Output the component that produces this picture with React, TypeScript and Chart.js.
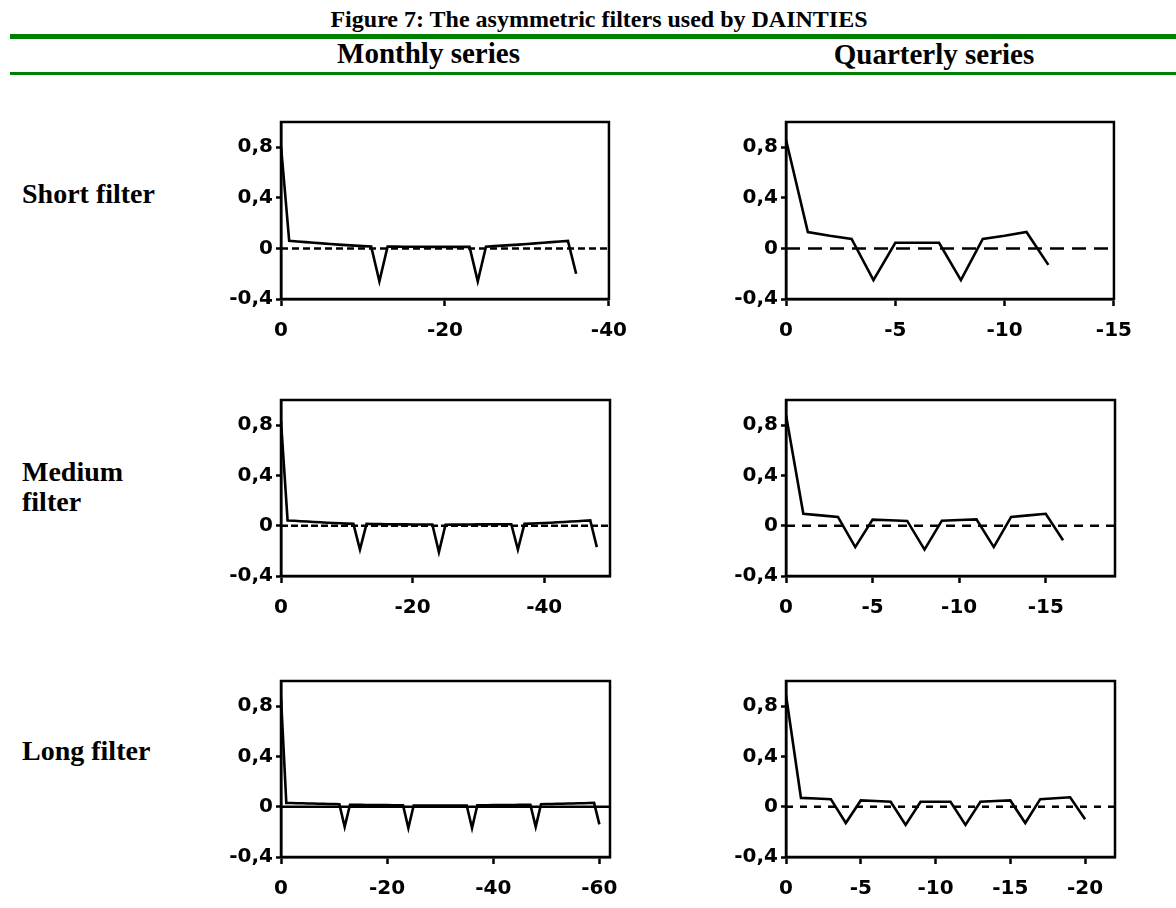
import React, { useEffect, useRef } from 'react';
import { Chart, registerables } from 'chart.js';

Chart.register(...registerables);

// ---- Data ----
const TITLE = 'Figure 7: The asymmetric filters used by DAINTIES';
const COLUMN_TITLES = ['Monthly series', 'Quarterly series'];
const ROW_LABELS = [['Short filter'], ['Medium', 'filter'], ['Long filter']];

const Y_TICKS = [-0.4, 0, 0.4, 0.8];
const Y_TICK_LABELS = ['-0,4', '0', '0,4', '0,8'];

// Filter weights by lag (lag 0, -1, -2, ...)
const monthlyShort = [
  0.81, 0.06, 0.055, 0.05, 0.045, 0.04, 0.035, 0.03, 0.026, 0.022, 0.018, 0.015,
  -0.26, 0.014, 0.014, 0.013, 0.013, 0.013, 0.012, 0.012, 0.012, 0.012, 0.012, 0.012,
  -0.26, 0.014, 0.018, 0.022, 0.026, 0.03, 0.035, 0.04, 0.045, 0.05, 0.055, 0.06,
  -0.2,
];
const quarterlyShort = [0.86, 0.13, 0.1, 0.075, -0.25, 0.045, 0.045, 0.045, -0.25, 0.075, 0.1, 0.13, -0.13];

const monthlyMedium = [
  0.83, 0.042, 0.039, 0.036, 0.033, 0.03, 0.027, 0.024, 0.021, 0.019, 0.017, 0.015,
  -0.19, 0.015, 0.014, 0.013, 0.012, 0.012, 0.011, 0.011, 0.01, 0.01, 0.01, 0.01,
  -0.21, 0.008, 0.009, 0.009, 0.01, 0.01, 0.011, 0.011, 0.012, 0.012, 0.012, 0.012,
  -0.19, 0.015, 0.017, 0.019, 0.021, 0.024, 0.027, 0.03, 0.033, 0.036, 0.039, 0.042,
  -0.17,
];
const quarterlyMedium = [0.88, 0.095, 0.082, 0.07, -0.17, 0.048, 0.043, 0.038, -0.19, 0.04, 0.045, 0.05, -0.17, 0.07, 0.082, 0.095, -0.115];

const monthlyLong = [
  0.87, 0.03, 0.029, 0.028, 0.027, 0.026, 0.025, 0.024, 0.023, 0.022, 0.021, 0.02,
  -0.16, 0.016, 0.015, 0.015, 0.014, 0.014, 0.013, 0.013, 0.013, 0.012, 0.012, 0.012,
  -0.17, 0.01, 0.01, 0.01, 0.01, 0.01, 0.01, 0.01, 0.01, 0.01, 0.01, 0.01,
  -0.17, 0.012, 0.012, 0.012, 0.013, 0.013, 0.013, 0.014, 0.014, 0.015, 0.015, 0.016,
  -0.16, 0.02, 0.021, 0.022, 0.023, 0.024, 0.025, 0.026, 0.027, 0.028, 0.029, 0.03,
  -0.14,
];
const quarterlyLong = [0.89, 0.07, 0.065, 0.06, -0.13, 0.05, 0.045, 0.04, -0.145, 0.04, 0.04, 0.04, -0.145, 0.04, 0.045, 0.05, -0.13, 0.06, 0.067, 0.075, -0.1];

const monthlyShortXTicks = [0, -20, -40];
const quarterlyShortXTicks = [0, -5, -10, -15];
const monthlyMediumXTicks = [0, -20, -40];
const quarterlyMediumXTicks = [0, -5, -10, -15];
const monthlyLongXTicks = [0, -20, -40, -60];
const quarterlyLongXTicks = [0, -5, -10, -15, -20];

// ---- Layout ----
const COLS = [
  { left: 281, right: 610 },
  { left: 786, right: 1115 },
];
const ROWS = [
  { top: 122, bottom: 299 },
  { top: 400, bottom: 576 },
  { top: 681, bottom: 857 },
];

const TICK_FONT = { family: '"DejaVu Sans", "Liberation Sans", Arial, sans-serif', size: 20, weight: 'bold' as const };
const SERIF = '"Liberation Serif", "Times New Roman", serif';

const boxPlugin = {
  id: 'plotBox',
  afterDraw(chart: any) {
    const { ctx, chartArea: a } = chart;
    ctx.save();
    ctx.strokeStyle = '#000';
    ctx.lineWidth = 2.5;
    ctx.strokeRect(a.left, a.top, a.right - a.left, a.bottom - a.top);
    ctx.restore();
  },
};

type ChartProps = {
  weights: number[];
  xMin: number;
  xTicks: number[];
  dash: number[];
  left: number;
  right: number;
  top: number;
  bottom: number;
};

function FilterChart({ weights, xMin, xTicks, dash, left, right, top, bottom }: ChartProps) {
  const ref = useRef<HTMLCanvasElement>(null);
  const padL = 80;
  const padR = 30;
  const padT = 20;
  const xH = 50;
  const cw = right - left + padL + padR;
  const ch = bottom - top + padT + xH;

  useEffect(() => {
    if (!ref.current) return;
    const chart = new Chart(ref.current, {
      type: 'line',
      data: {
        datasets: [
          {
            data: weights.map((w, i) => ({ x: -i, y: w })),
            borderColor: '#000',
            borderWidth: 2.6,
            pointRadius: 0,
            tension: 0,
            fill: false,
          },
          {
            data: [
              { x: 0, y: 0 },
              { x: xMin, y: 0 },
            ],
            borderColor: '#000',
            borderWidth: 2.5,
            borderDash: dash,
            pointRadius: 0,
            fill: false,
          },
        ],
      },
      options: {
        animation: false,
        responsive: false,
        devicePixelRatio: 1,
        layout: { padding: { left: 0, right: padR, top: padT, bottom: 0 } },
        plugins: { legend: { display: false }, tooltip: { enabled: false }, title: { display: false } },
        scales: {
          x: {
            type: 'linear',
            reverse: true,
            min: xMin,
            max: 0,
            afterFit: (s: any) => {
              s.height = xH;
            },
            afterBuildTicks: (s: any) => {
              s.ticks = xTicks.map((v) => ({ value: v }));
            },
            grid: { drawOnChartArea: false, drawTicks: true, tickLength: 7, tickWidth: 2.5, color: '#000' },
            border: { display: true, color: '#000', width: 2.5 },
            ticks: {
              color: '#000',
              font: TICK_FONT,
              padding: 13,
              maxRotation: 0,
              autoSkip: false,
              callback: (v: any) => String(v),
            },
          },
          y: {
            type: 'linear',
            min: -0.4,
            max: 1.0,
            afterFit: (s: any) => {
              s.width = padL;
            },
            afterBuildTicks: (s: any) => {
              s.ticks = Y_TICKS.map((v) => ({ value: v }));
            },
            grid: { drawOnChartArea: false, drawTicks: true, tickLength: 5, tickWidth: 2.5, color: '#000' },
            border: { display: true, color: '#000', width: 2.5 },
            ticks: {
              color: '#000',
              font: TICK_FONT,
              padding: 3,
              autoSkip: false,
              callback: (v: any) => {
                const idx = Y_TICKS.indexOf(v);
                return idx >= 0 ? Y_TICK_LABELS[idx] : '';
              },
            },
          },
        },
      } as any,
      plugins: [boxPlugin],
    });
    return () => chart.destroy();
  }, []);

  return (
    <canvas
      ref={ref}
      width={cw}
      height={ch}
      style={{ position: 'absolute', left: left - padL, top: top - padT, width: cw, height: ch }}
    />
  );
}

const CHARTS = [
  { weights: monthlyShort, xMin: -40, xTicks: monthlyShortXTicks, dash: [7, 4], col: 0, row: 0 },
  { weights: quarterlyShort, xMin: -15, xTicks: quarterlyShortXTicks, dash: [14, 8], col: 1, row: 0 },
  { weights: monthlyMedium, xMin: -50, xTicks: monthlyMediumXTicks, dash: [7, 3], col: 0, row: 1 },
  { weights: quarterlyMedium, xMin: -19, xTicks: quarterlyMediumXTicks, dash: [9, 7], col: 1, row: 1 },
  { weights: monthlyLong, xMin: -62, xTicks: monthlyLongXTicks, dash: [], col: 0, row: 2 },
  { weights: quarterlyLong, xMin: -22, xTicks: quarterlyLongXTicks, dash: [7, 7], col: 1, row: 2 },
];

const ROW_LABEL_BASELINES = [203, 481, 760];

export default function App() {
  const green = '#008000';
  const textStyle = (size: number): React.CSSProperties => ({
    position: 'absolute',
    fontFamily: SERIF,
    fontWeight: 'bold',
    fontSize: size,
    lineHeight: `${size}px`,
    whiteSpace: 'nowrap',
    color: '#000',
  });
  return (
    <div style={{ position: 'absolute', left: 0, top: 0, width: 1176, height: 908, background: '#fff', overflow: 'hidden' }}>
      <div style={{ ...textStyle(24), left: 599, top: 27 - 0.8375 * 24, transform: 'translateX(-50%)' }}>{TITLE}</div>
      <div style={{ position: 'absolute', left: 10, top: 34, width: 1166, height: 5, background: green }} />
      <div style={{ ...textStyle(29), left: 428.5, top: 63.5 - 0.8375 * 29, transform: 'translateX(-50%)' }}>{COLUMN_TITLES[0]}</div>
      <div style={{ ...textStyle(29), left: 934, top: 64 - 0.8375 * 29, transform: 'translateX(-50%)' }}>{COLUMN_TITLES[1]}</div>
      <div style={{ position: 'absolute', left: 10, top: 72, width: 1166, height: 2.5, background: green }} />
      {ROW_LABELS.map((lines, r) =>
        lines.map((line, k) => (
          <div
            key={`${r}-${k}`}
            style={{ ...textStyle(28), left: 22, top: ROW_LABEL_BASELINES[r] + k * 30 - 0.8375 * 28 }}
          >
            {line}
          </div>
        ))
      )}
      {CHARTS.map((c, i) => (
        <FilterChart
          key={i}
          weights={c.weights}
          xMin={c.xMin}
          xTicks={c.xTicks}
          dash={c.dash}
          left={COLS[c.col].left}
          right={COLS[c.col].right}
          top={ROWS[c.row].top}
          bottom={ROWS[c.row].bottom}
        />
      ))}
    </div>
  );
}
